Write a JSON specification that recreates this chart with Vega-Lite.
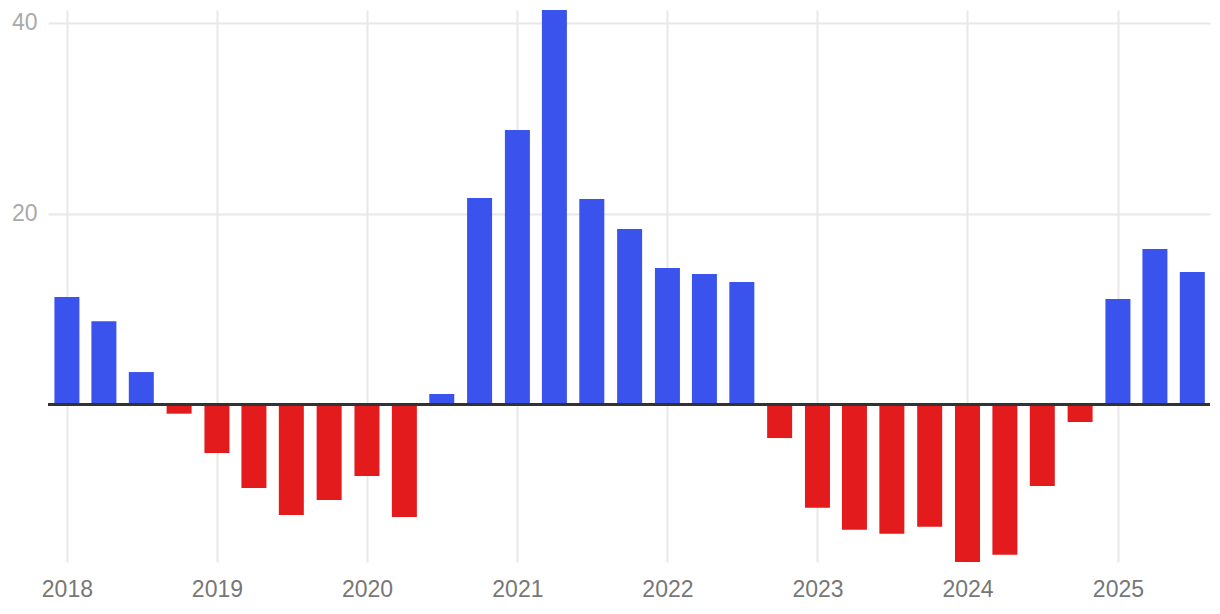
{
  "$schema": "https://vega.github.io/schema/vega-lite/v6.json",
  "width": 1162,
  "height": 552,
  "autosize": {"type": "none"},
  "padding": {"left": 48, "top": 10, "right": 10, "bottom": 52},
  "background": "#ffffff",
  "config": {
    "view": {"stroke": null},
    "font": "Liberation Sans"
  },
  "data": {
    "values": [
      {"date": "2018-01-01", "value": 11.28},
      {"date": "2018-04-01", "value": 8.75},
      {"date": "2018-07-01", "value": 3.42},
      {"date": "2018-10-01", "value": -0.94},
      {"date": "2019-01-01", "value": -5.06},
      {"date": "2019-04-01", "value": -8.72},
      {"date": "2019-07-01", "value": -11.55},
      {"date": "2019-10-01", "value": -9.98},
      {"date": "2020-01-01", "value": -7.47},
      {"date": "2020-04-01", "value": -11.76},
      {"date": "2020-07-01", "value": 1.12},
      {"date": "2020-10-01", "value": 21.64},
      {"date": "2021-01-01", "value": 28.76},
      {"date": "2021-04-01", "value": 41.33},
      {"date": "2021-07-01", "value": 21.54},
      {"date": "2021-10-01", "value": 18.39},
      {"date": "2022-01-01", "value": 14.31},
      {"date": "2022-04-01", "value": 13.69},
      {"date": "2022-07-01", "value": 12.85},
      {"date": "2022-10-01", "value": -3.49},
      {"date": "2023-01-01", "value": -10.8},
      {"date": "2023-04-01", "value": -13.1},
      {"date": "2023-07-01", "value": -13.5},
      {"date": "2023-10-01", "value": -12.77},
      {"date": "2024-01-01", "value": -16.47},
      {"date": "2024-04-01", "value": -15.7},
      {"date": "2024-07-01", "value": -8.51},
      {"date": "2024-10-01", "value": -1.81},
      {"date": "2025-01-01", "value": 11.07},
      {"date": "2025-04-01", "value": 16.3},
      {"date": "2025-07-01", "value": 13.9}
    ]
  },
  "layer": [
    {
      "mark": {"type": "bar", "width": 25, "clip": true},
      "encoding": {
        "x": {
          "field": "date",
          "type": "temporal",
          "scale": {"domain": ["2017-11-16", "2025-08-13"], "padding": 0},
          "axis": {
            "title": null,
            "values": ["2018-01-01", "2019-01-01", "2020-01-01", "2021-01-01", "2022-01-01", "2023-01-01", "2024-01-01", "2025-01-01"],
            "format": "%Y",
            "grid": true,
            "gridColor": "#e8e8e8",
            "gridWidth": 2,
            "ticks": false,
            "domain": false,
            "labelFontSize": 23,
            "labelColor": "#777777",
            "labelPadding": 16,
            "labelFont": "Liberation Sans"
          }
        },
        "y": {
          "field": "value",
          "type": "quantitative",
          "scale": {"domain": [-16.47, 41.33], "nice": false, "zero": false},
          "axis": {
            "title": null,
            "values": [20, 40],
            "grid": true,
            "gridColor": "#e8e8e8",
            "gridWidth": 2,
            "ticks": false,
            "domain": false,
            "labelFontSize": 23,
            "labelColor": "#aaaaaa",
            "labelPadding": 11,
            "labelFont": "Liberation Sans"
          }
        },
        "color": {
          "condition": {"test": "datum.value >= 0", "value": "#3953ec"},
          "value": "#e31b1d"
        }
      }
    },
    {
      "mark": {"type": "rule", "color": "#333333", "strokeWidth": 2},
      "encoding": {
        "y": {"datum": 0, "type": "quantitative"}
      }
    }
  ]
}
